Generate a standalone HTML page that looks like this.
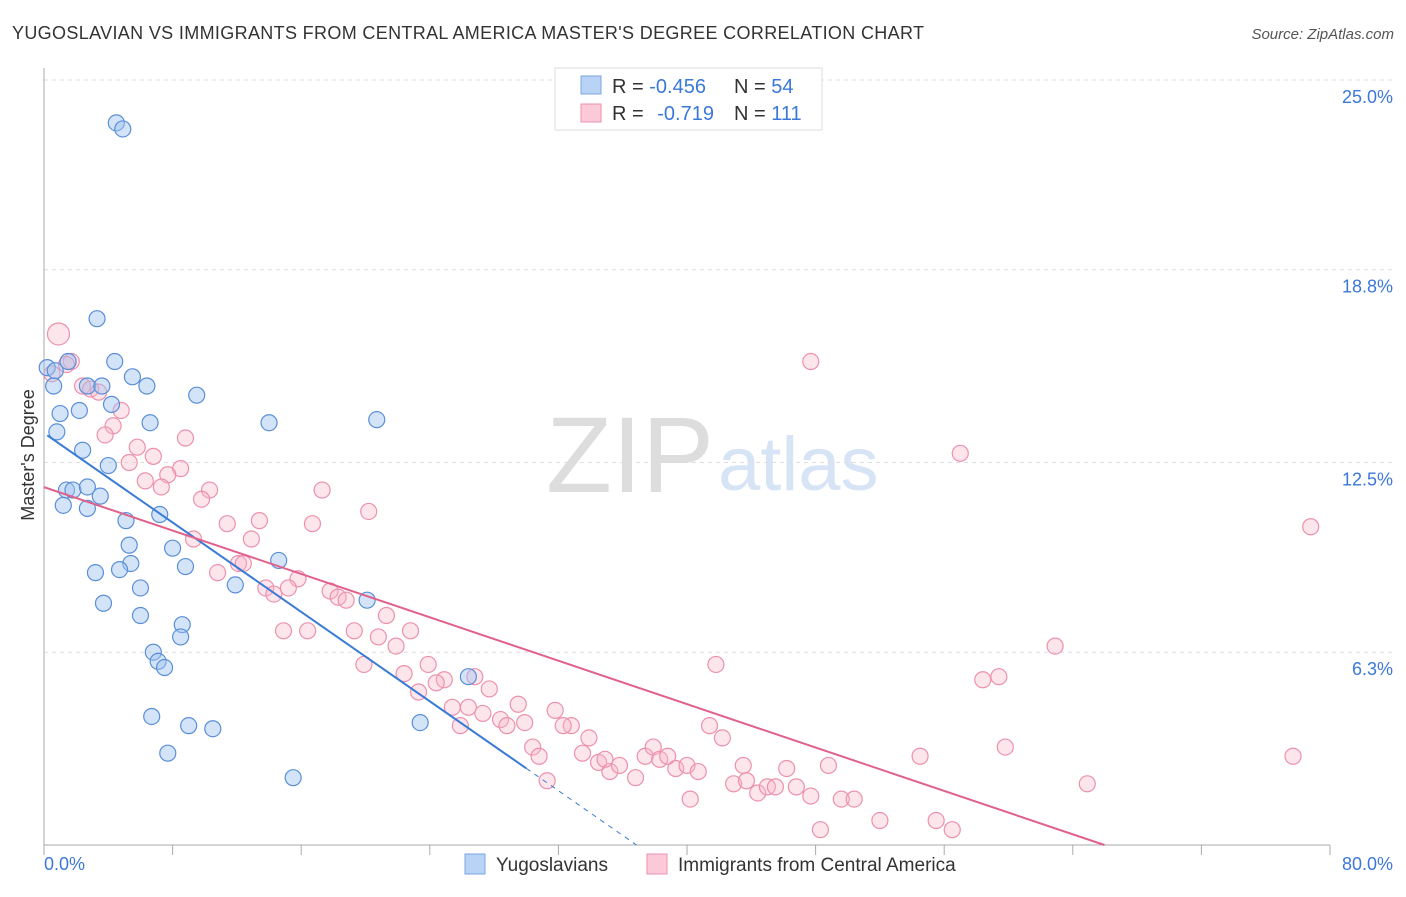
<!DOCTYPE html>
<html><head><meta charset="utf-8"><style>
body{margin:0;background:#fff;font-family:"Liberation Sans",sans-serif;}
svg text{font-family:"Liberation Sans",sans-serif;}
</style></head><body>
<svg id="chart" width="1406" height="892">
<text x="12" y="39" font-size="18" fill="#333" textLength="912">YUGOSLAVIAN VS IMMIGRANTS FROM CENTRAL AMERICA MASTER'S DEGREE CORRELATION CHART</text>
<text x="1394" y="39" font-size="15" fill="#555" font-style="italic" text-anchor="end">Source: ZipAtlas.com</text>
<text x="714" y="492" font-size="108" fill="#ddd" text-anchor="end" font-family="Liberation Serif">ZIP</text>
<text x="718" y="490" font-size="76" fill="#d6e4f5">atlas</text>
<g id="grid"></g>
<g id="axes"></g>
<g id="pts"></g>
<g id="lines"></g>
<text transform="translate(34,455) rotate(-90)" font-size="18" fill="#333" text-anchor="middle">Master's Degree</text>
<g>
<rect x="555" y="68" width="267" height="62" fill="#fff" stroke="#ddd"/>
<rect x="581" y="76" width="20" height="18" fill="#b8d3f5" stroke="#7aa6e0"/>
<rect x="581" y="104" width="20" height="18" fill="#fbc9d8" stroke="#ec91ad"/>
<text x="612" y="93" font-size="20" fill="#333">R = <tspan fill="#3c78d8">-0.456</tspan><tspan x="734">N = </tspan><tspan fill="#3c78d8">54</tspan></text>
<text x="612" y="120" font-size="20" fill="#333">R = <tspan fill="#3c78d8" dx="8">-0.719</tspan><tspan x="734">N = </tspan><tspan fill="#3c78d8">111</tspan></text>
</g>
<g>
<rect x="465" y="854" width="20" height="20" fill="#b8d3f5" stroke="#7aa6e0"/>
<text x="496" y="871" font-size="19" fill="#333">Yugoslavians</text>
<rect x="647" y="854" width="20" height="20" fill="#fbc9d8" stroke="#ec91ad"/>
<text x="678" y="871" font-size="19" fill="#333">Immigrants from Central America</text>
</g>
</svg>
<script>
const yTicks=[6.3,12.5,18.8,25.0];
const xTickLabels=["0.0%","80.0%"];
const blueX=[4.5,4.9,3.3,4.4,0.2,0.7,1.5,5.5,6.4,0.6,2.7,3.6,4.2,2.2,9.5,1,6.6,14,20.7,0.8,2.4,4,1.4,1.8,2.7,1.2,2.7,3.5,5.1,7.2,5.3,8,5.4,8.8,4.7,3.2,14.6,11.9,6,3.7,6,20.1,8.6,8.5,6.8,7.1,7.5,26.4,6.7,9,10.5,23.4,7.7,15.5];
const blueY=[23.6,23.4,17.2,15.8,15.6,15.5,15.8,15.3,15,15,15,15,14.4,14.2,14.7,14.1,13.8,13.8,13.9,13.5,12.9,12.4,11.6,11.6,11.7,11.1,11,11.4,10.6,10.8,9.8,9.7,9.2,9.1,9,8.9,9.3,8.5,8.4,7.9,7.5,8,7.2,6.8,6.3,6,5.8,5.5,4.2,3.9,3.8,4,3,2.2];
const pinkX=[0.9,1.7,1.4,0.5,2.4,2.9,3.4,4.8,4.3,3.8,5.8,8.8,6.8,5.3,8.5,7.7,6.3,7.3,10.3,9.8,17.3,13.4,11.4,16.7,20.2,9.3,12.9,12.1,10.8,12.4,15.8,15.2,13.8,14.3,17.8,18.3,18.8,21.3,14.9,16.4,19.3,20.8,22.8,21.9,19.9,23.9,22.4,24.9,23.3,24.4,26.8,27.7,25.4,26.4,29.5,28.4,29.9,27.3,31.8,25.9,28.8,32.8,32.3,30.4,33.9,30.8,31.3,33.5,34.5,35.2,34.9,35.8,36.8,37.4,37.9,38.3,38.8,39.3,40,40.7,41.4,41.8,42.2,43.5,42.9,43.7,44.4,45,45.5,46.2,46.8,47.7,48.8,47.7,40.2,48.3,49.6,50.4,52,54.5,55.5,56.5,57,58.4,59.4,59.8,62.9,64.9,77.7,78.8];
const pinkY=[16.7,15.8,15.7,15.4,15,14.9,14.8,14.2,13.7,13.4,13,13.3,12.7,12.5,12.3,12.1,11.9,11.7,11.6,11.3,11.6,10.6,10.5,10.5,10.9,10,10,9.2,8.9,9.2,8.7,8.4,8.4,8.2,8.3,8.1,8,7.5,7,7,7,6.8,7,6.5,5.9,5.9,5.6,5.4,5,5.3,5.5,5.1,4.5,4.5,4.6,4.1,4,4.3,4.4,3.9,3.9,3.9,3.9,3.2,3.5,2.9,2.1,3,2.7,2.4,2.8,2.6,2.2,2.9,3.2,2.8,2.9,2.5,2.6,2.4,3.9,5.9,3.5,2.6,2,2.1,1.7,1.9,1.9,2.5,1.9,15.8,2.6,1.6,1.5,0.5,1.5,1.5,0.8,2.9,0.8,0.5,12.8,5.4,5.5,3.2,6.5,2,2.9,10.4];
const X0=44,X1=1330,Y0=845,Y1=80;
const xs=v=>X0+v/80*(X1-X0), ys=v=>Y0-v/25*(Y0-Y1);
const NS="http://www.w3.org/2000/svg";
function mk(p,t,a){const e=document.createElementNS(NS,t);for(const k in a)e.setAttribute(k,a[k]);p.appendChild(e);return e;}
const grid=document.getElementById('grid'),axes=document.getElementById('axes'),pts=document.getElementById('pts'),lines=document.getElementById('lines');
yTicks.forEach(t=>{const l=mk(grid,'line',{x1:X0,x2:1394,y1:ys(t),y2:ys(t),stroke:'#ddd','stroke-dasharray':'4,4'});


const tx=mk(grid,'text',{x:1393,y:ys(t)+23,'font-size':18,fill:'#3c78d8','text-anchor':'end'});tx.textContent=t.toFixed(1)+'%';

});
mk(axes,'line',{x1:X0,x2:X0,y1:68,y2:Y0,stroke:'#aaa'});
mk(axes,'line',{x1:X0,x2:X1,y1:Y0,y2:Y0,stroke:'#aaa'});
for(let i=0;i<=10;i++){mk(axes,'line',{x1:xs(i*8),x2:xs(i*8),y1:Y0,y2:Y0+10,stroke:'#aaa'});}
let t1=mk(axes,'text',{x:44,y:870,'font-size':18,fill:'#3c78d8'});t1.textContent=xTickLabels[0];


let t2=mk(axes,'text',{x:1393,y:870,'font-size':18,fill:'#3c78d8','text-anchor':'end'});t2.textContent=xTickLabels[1];


pinkX.forEach((v,i)=>{const c=mk(pts,'circle',{cx:xs(v),cy:ys(pinkY[i]),r:i==0?11:8,fill:'rgba(248,180,200,0.35)',stroke:'#ec91ad','stroke-width':1.2});

});
blueX.forEach((v,i)=>{const c=mk(pts,'circle',{cx:xs(v),cy:ys(blueY[i]),r:8,fill:'rgba(160,195,240,0.45)',stroke:'#5a8fd8','stroke-width':1.2});

});
function fit(X,Y){const n=X.length;let mx=0,my=0;X.forEach((x,i)=>{mx+=x;my+=Y[i];});mx/=n;my/=n;let sxy=0,sxx=0;X.forEach((x,i)=>{sxy+=(x-mx)*(Y[i]-my);sxx+=(x-mx)**2;});const b=sxy/sxx;return [my-b*mx,b];}
const [ba,bb]=fit(blueX,blueY),[pa,pb]=fit(pinkX,pinkY);
let l=mk(lines,'line',{x1:xs(0.2),y1:ys(ba+bb*0.2),x2:xs(30),y2:ys(ba+bb*30),stroke:'#3a7bd5','stroke-width':2});


const xe=-ba/bb;
l=mk(lines,'line',{x1:xs(30),y1:ys(ba+bb*30),x2:xs(xe),y2:ys(0),stroke:'#3a7bd5','stroke-width':1,'stroke-dasharray':'5,5'});


const pe=-pa/pb;
l=mk(lines,'line',{x1:xs(0),y1:ys(pa),x2:xs(pe),y2:ys(0),stroke:'#e0628c','stroke-width':2});


</script>
</body></html>
